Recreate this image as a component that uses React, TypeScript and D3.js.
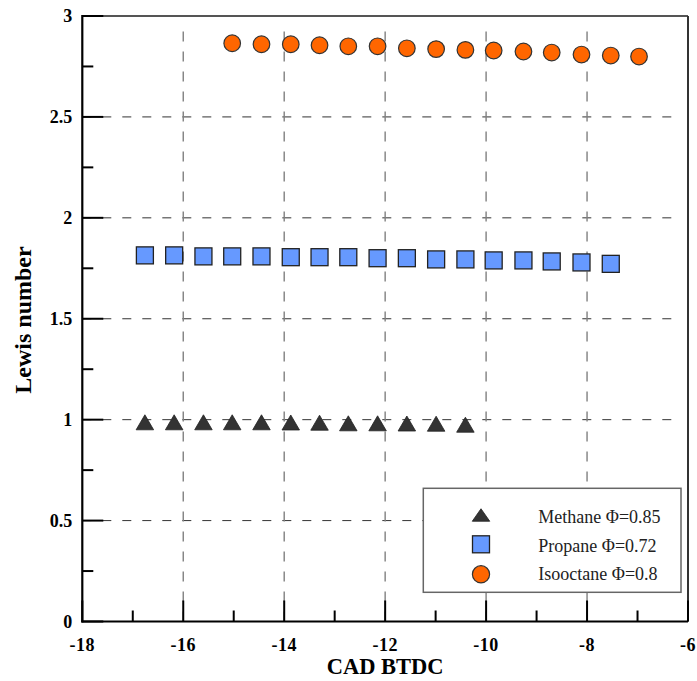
import React from "react";
import * as d3 from "d3";

const xTicks = [-18, -16, -14, -12, -10, -8, -6];
const yTicks = [0, 0.5, 1, 1.5, 2, 2.5, 3];

const methaneX = [-16.76, -16.18, -15.6, -15.03, -14.45, -13.87, -13.3, -12.73, -12.15, -11.57, -10.99, -10.41];
const methaneY = [0.987, 0.987, 0.987, 0.987, 0.987, 0.986, 0.985, 0.982, 0.982, 0.981, 0.98, 0.975];

const propaneX = [-16.76, -16.18, -15.6, -15.03, -14.45, -13.87, -13.3, -12.73, -12.15, -11.57, -10.99, -10.41, -9.85, -9.26, -8.7, -8.11, -7.53];
const propaneY = [1.814, 1.814, 1.809, 1.809, 1.809, 1.805, 1.805, 1.805, 1.8, 1.8, 1.794, 1.794, 1.789, 1.789, 1.784, 1.779, 1.772];

const isoX = [-15.03, -14.45, -13.87, -13.3, -12.73, -12.15, -11.57, -10.99, -10.41, -9.85, -9.26, -8.7, -8.11, -7.53, -6.97];
const isoY = [2.865, 2.86, 2.86, 2.855, 2.85, 2.85, 2.84, 2.836, 2.832, 2.829, 2.824, 2.819, 2.809, 2.804, 2.799];

const legendLabels = ["Methane \u03A6=0.85", "Propane \u03A6=0.72", "Isooctane \u03A6=0.8"];

const W = 697;
const H = 681;
const L = 82.3;
const R = 688;
const T = 16;
const B = 621.5;

const FONT = "Liberation Serif, DejaVu Serif, serif";
const TRI = "#333333";
const BLUE = "#6699FF";
const ORANGE = "#FF6600";

function Triangle({ cx, cy, w = 17.5, h = 15 }: { cx: number; cy: number; w?: number; h?: number }) {
  const p = d3.path();
  p.moveTo(cx, cy - h / 2);
  p.lineTo(cx + w / 2, cy + h / 2);
  p.lineTo(cx - w / 2, cy + h / 2);
  p.closePath();
  return <path d={p.toString()} fill={TRI} stroke="#222" strokeWidth={0.8} />;
}

function Square({ cx, cy, s = 17 }: { cx: number; cy: number; s?: number }) {
  return <rect x={cx - s / 2} y={cy - s / 2} width={s} height={s} fill={BLUE} stroke="#222" strokeWidth={1.3} />;
}

function Circle({ cx, cy, r = 8.3 }: { cx: number; cy: number; r?: number }) {
  return <circle cx={cx} cy={cy} r={r} fill={ORANGE} stroke="#333" strokeWidth={1.2} />;
}

export default function App() {
  const x = d3.scaleLinear().domain([-18, -6]).range([L, R]);
  const y = d3.scaleLinear().domain([0, 3]).range([B, T]);

  const xMinor = d3.range(-17, -6, 2);
  const yMinor = d3.range(0.25, 3, 0.5);
  const ts = { fontFamily: FONT };

  return (
    <svg width={W} height={H} style={{ position: "absolute", left: 0, top: 0 }}>
      <rect x={0} y={0} width={W} height={H} fill="#fff" />
      {/* grid */}
      {yTicks.filter((v) => v > 0 && v < 3).map((v) => (
        <line key={"hg" + v} x1={L} x2={R - 10} y1={y(v)} y2={y(v)} stroke="#333" strokeWidth={1} strokeDasharray="9,11" />
      ))}
      {xTicks.filter((v) => v > -18 && v < -6).map((v) => (
        <line key={"vg" + v} x1={x(v)} x2={x(v)} y1={B} y2={T + 10} stroke="#808080" strokeWidth={1.4} strokeDasharray="10,10" />
      ))}
      {/* frame */}
      <line x1={L} x2={R} y1={T} y2={T} stroke="#555" strokeWidth={2} />
      <line x1={R} x2={R} y1={T} y2={B} stroke="#333" strokeWidth={2} />
      <line x1={L} x2={L} y1={T - 1} y2={B + 1} stroke="#000" strokeWidth={2.2} />
      <line x1={L - 1} x2={R} y1={B} y2={B} stroke="#000" strokeWidth={2.2} />
      {/* ticks */}
      {yTicks.map((v) => (
        <line key={"yt" + v} x1={L} x2={L + 21} y1={y(v)} y2={y(v)} stroke="#000" strokeWidth={2} />
      ))}
      {yMinor.map((v) => (
        <line key={"ym" + v} x1={L} x2={L + 11} y1={y(v)} y2={y(v)} stroke="#000" strokeWidth={2} />
      ))}
      {xTicks.map((v) => (
        <line key={"xt" + v} x1={x(v)} x2={x(v)} y1={B} y2={B - 21} stroke="#000" strokeWidth={2} />
      ))}
      {xMinor.map((v) => (
        <line key={"xm" + v} x1={x(v)} x2={x(v)} y1={B} y2={B - 11} stroke="#000" strokeWidth={2} />
      ))}
      {/* tick labels */}
      {yTicks.map((v) => (
        <text key={"yl" + v} x={L - 10} y={y(v)} dy="0.36em" textAnchor="end" fontSize={18} fontWeight="bold" style={ts}>
          {String(v)}
        </text>
      ))}
      {xTicks.map((v) => (
        <text key={"xl" + v} x={x(v)} y={650.5} textAnchor="middle" fontSize={18} fontWeight="bold" letterSpacing={0.5} style={ts}>
          {String(v)}
        </text>
      ))}
      {/* axis titles */}
      <text x={(L + R) / 2} y={674} textAnchor="middle" fontSize={22.5} fontWeight="bold" style={ts}>
        CAD BTDC
      </text>
      <text transform={`translate(31,320) rotate(-90)`} textAnchor="middle" fontSize={24} fontWeight="bold" style={ts}>
        Lewis number
      </text>
      {/* data */}
      {methaneX.map((v, i) => (
        <Triangle key={"m" + i} cx={x(v)} cy={y(methaneY[i])} />
      ))}
      {propaneX.map((v, i) => (
        <Square key={"p" + i} cx={x(v)} cy={y(propaneY[i])} />
      ))}
      {isoX.map((v, i) => (
        <Circle key={"c" + i} cx={x(v)} cy={y(isoY[i])} />
      ))}
      {/* legend */}
      <rect x={423.3} y={488.3} width={257.7} height={104} fill="#fff" stroke="#666" strokeWidth={1.5} />
      <Triangle cx={481} cy={515} w={17.5} h={12.5} />
      <Square cx={481} cy={544.3} s={17} />
      <Circle cx={481} cy={574.3} r={8.6} />
      {legendLabels.map((t, i) => (
        <text key={"lg" + i} x={538.3} y={523 + i * 28.6} fontSize={18} fill="#222" style={ts}>
          {t}
        </text>
      ))}
    </svg>
  );
}
